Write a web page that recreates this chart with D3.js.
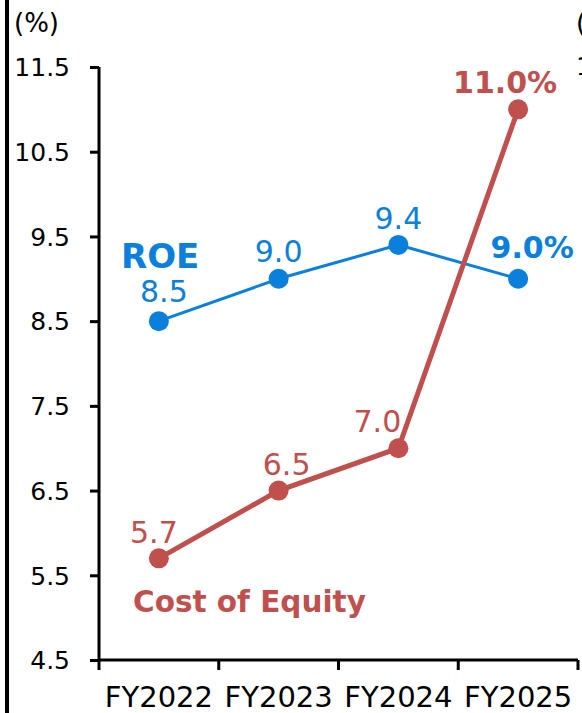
<!DOCTYPE html>
<html><head><meta charset="utf-8">
<script src="https://cdn.jsdelivr.net/npm/d3@7"></script>
<style>body{margin:0;background:#fff}svg{display:block}text{font-family:"DejaVu Sans",Verdana,sans-serif}</style>
</head><body>
<svg id="c" width="582" height="713"></svg>
<script>
const categories = ["FY2022","FY2023","FY2024","FY2025"];
const roe = [8.5, 9.0, 9.4, 9.0];
const costOfEquity = [5.7, 6.5, 7.0, 11.0];
const yTicks = [4.5, 5.5, 6.5, 7.5, 8.5, 9.5, 10.5, 11.5];
const roeLabels = ["8.5","9.0","9.4","9.0%"];
const coeLabels = ["5.7","6.5","7.0","11.0%"];

const blue = "#0a80dc", red = "#c0504d";
const svg = d3.select("#c");
const x = d3.scaleBand().domain(categories).range([99, 578]);
const y = d3.scaleLinear().domain([4.5, 11.5]).range([660, 67]);
const cx = d => x(d) + x.bandwidth()/2;

// left frame line
svg.append("line").attr("x1",7).attr("x2",7).attr("y1",0).attr("y2",713).attr("stroke","#000").attr("stroke-width",4);

// y axis
const ya = svg.append("g").attr("transform","translate(99,0)")
  .call(d3.axisLeft(y).tickValues(yTicks).tickFormat(d3.format(".1f")).tickSize(9).tickPadding(20));
ya.select(".domain").attr("stroke","#000").attr("stroke-width",3).attr("d","M0,67V660");
ya.selectAll(".tick line").attr("stroke","#000").attr("stroke-width",3);
ya.selectAll(".tick text").attr("font-size",25).attr("fill","#000").attr("font-family","DejaVu Sans").attr("dy","0.35em");

// x axis
const xa = svg.append("g").attr("transform","translate(0,660)")
  .call(d3.axisBottom(x).tickSize(0).tickPadding(26));
xa.select(".domain").attr("stroke","#000").attr("stroke-width",3).attr("d","M99,0H578");
xa.selectAll(".tick text").attr("font-size",29).attr("fill","#000").attr("font-family","DejaVu Sans");
const bounds = categories.map(c => x(c)).concat([x(categories[categories.length-1]) + x.bandwidth()]);
xa.selectAll(".bt").data(bounds).enter().append("line").attr("class","bt")
  .attr("x1",d=>d).attr("x2",d=>d).attr("y1",0).attr("y2",10).attr("stroke","#000").attr("stroke-width",3);

// unit labels
svg.append("text").attr("x",14).attr("y",32).attr("font-size",26).text("(%)");
svg.append("text").attr("x",576).attr("y",32).attr("font-size",26).text("(%)");
svg.append("text").attr("x",576).attr("y",75).attr("font-size",25).text("11.5");

function series(vals, color, width, labels, offs) {
  const line = d3.line().x((d,i)=>cx(categories[i])).y(d=>y(d));
  svg.append("path").datum(vals).attr("d",line).attr("fill","none").attr("stroke",color).attr("stroke-width",width);
  svg.selectAll(null).data(vals).enter().append("circle")
    .attr("cx",(d,i)=>cx(categories[i])).attr("cy",d=>y(d)).attr("r",10).attr("fill",color);
  svg.selectAll(null).data(vals).enter().append("text")
    .attr("x",(d,i)=>cx(categories[i]) + offs[i][0]).attr("y",(d,i)=>y(d) + offs[i][1])
    .attr("text-anchor","middle").attr("fill",color)
    .attr("font-size",(d,i)=> i===vals.length-1 ? 30 : 30)
    .attr("font-weight",(d,i)=> i===vals.length-1 ? "bold" : "normal")
    .text((d,i)=>labels[i]);
}
series(roe, blue, 3, roeLabels, [[5,-19],[0,-17],[0,-16],[14,-21]]);
series(costOfEquity, red, 5, coeLabels, [[-5,-15],[8,-16],[-21,-16],[-13,-16]]);

svg.append("text").attr("x",121).attr("y",268).attr("font-size",34).attr("font-weight","bold").attr("fill",blue).text("ROE");
svg.append("text").attr("x",133).attr("y",612).attr("font-size",29.5).attr("font-weight","bold").attr("fill",red).text("Cost of Equity");
</script>
</body></html>
